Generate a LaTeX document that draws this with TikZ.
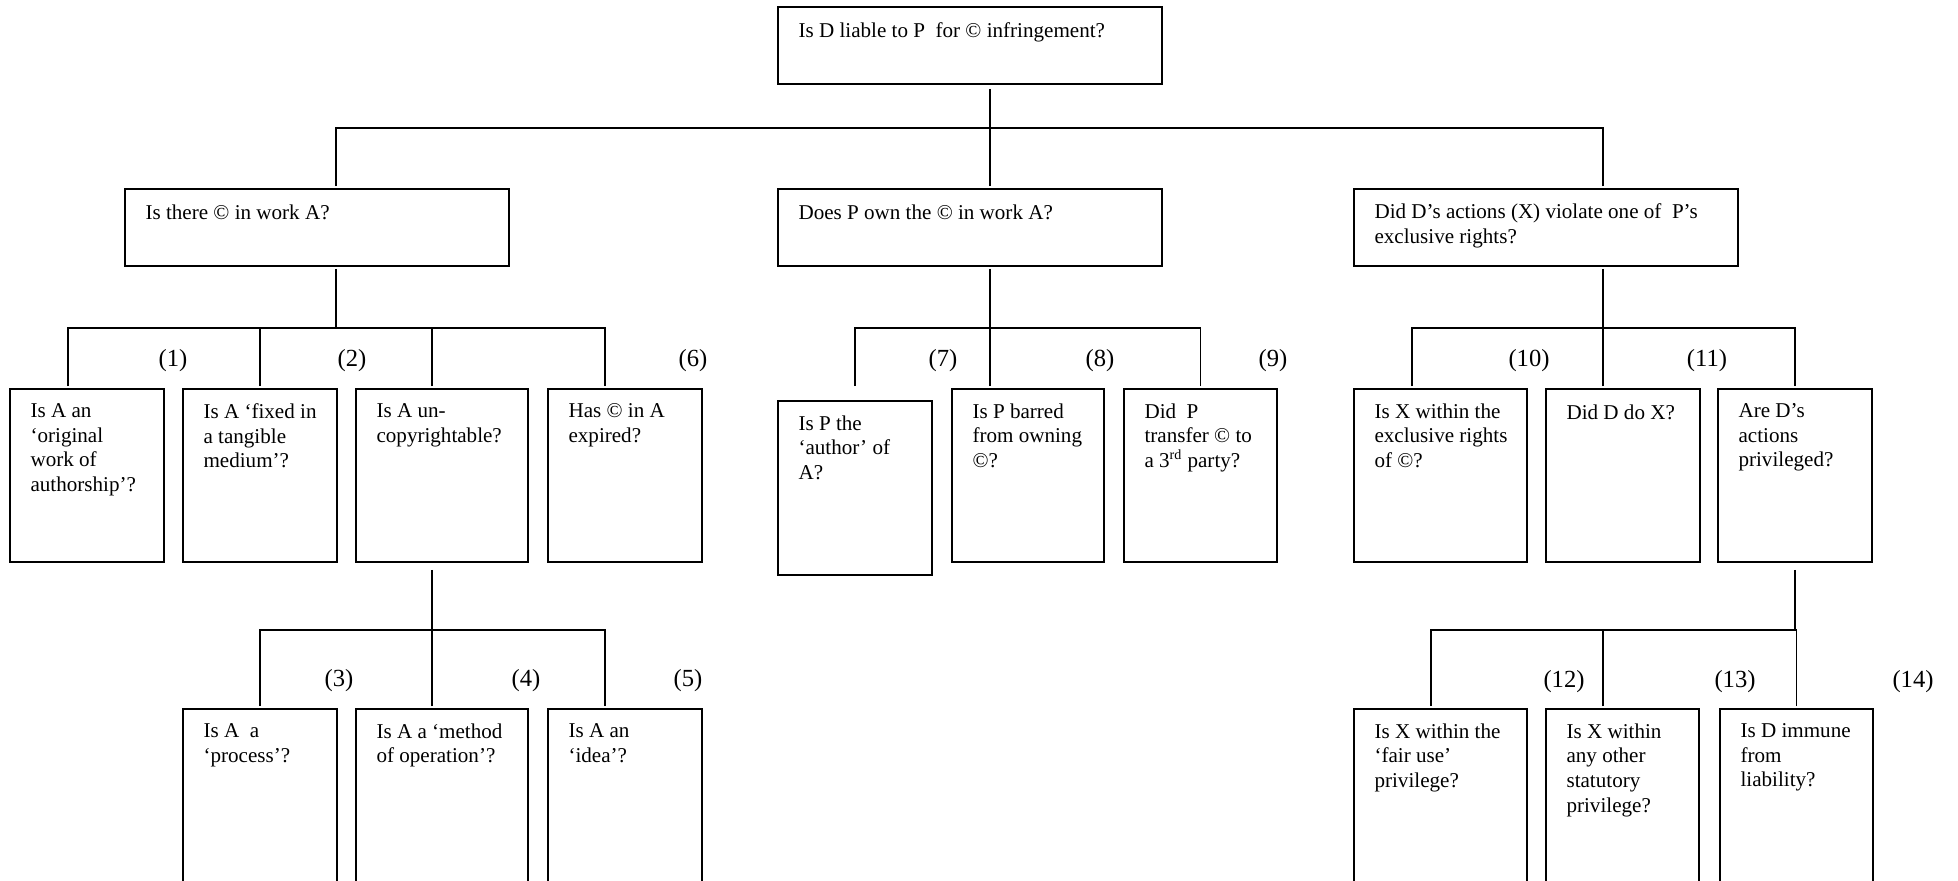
\documentclass[tikz,border=0pt]{standalone}
\usepackage{fontspec}
\setmainfont{Liberation Serif}

\begin{document}
\begin{tikzpicture}[
    x=0.02cm, y=-0.02cm,
    qbox/.style args={#1,#2,#3,#4}{
        rectangle,
        draw,
        line width=1pt,
        inner sep=0pt,
        at={({(#1+#3)/2},{(#2+#4)/2})},
        minimum width={(#3-#1)*0.02cm},
        minimum height={(#4-#2)*0.02cm}
    },
    qtext/.style={
        anchor=north west,
        inner sep=0pt,
        xshift=12pt,
        yshift=-8.6pt,
        align=left,
        font=\fontsize{12}{14}\selectfont,
        execute at begin node={\rule{0pt}{9pt}}
    },
    num/.style={font=\fontsize{14}{16}\selectfont},
    conn/.style={line width=0.7pt}
]

\useasboundingbox (0,0) rectangle (1958,880);

\node[qbox={778,7,1162,84}, label={[qtext]north west:{Is D liable to P\ \ for © infringement?}}] (root) {};

\node[qbox={125,189,509,266}, label={[qtext]north west:{Is there © in work A?}}] (qA) {};
\node[qbox={778,189,1162,266}, label={[qtext]north west:{Does P own the © in work A?}}] (qB) {};
\node[qbox={1354,189,1738,266}, label={[qtext]north west:{Did D’s actions (X) violate one of\ \ P’s\\exclusive rights?}}] (qC) {};

\node[qbox={10,389,164,562}, label={[qtext]north west:{Is A an\\‘original\\work of\\authorship’?}}] (a1) {};
\node[qbox={183,389,337,562}, label={[qtext]north west:{Is A ‘fixed in\\a tangible\\medium’?}}] (a2) {};
\node[qbox={356,389,528,562}, label={[qtext]north west:{Is A un-\\copyrightable?}}] (a3) {};
\node[qbox={548,389,702,562}, label={[qtext]north west:{Has © in A\\expired?}}] (a4) {};

\node[qbox={778,401,932,575}, label={[qtext]north west:{Is P the\\‘author’ of\\A?}}] (b1) {};
\node[qbox={952,389,1104,562}, label={[qtext]north west:{Is P barred\\from owning\\©?}}] (b2) {};
\node[qbox={1124,389,1277,562}, label={[qtext]north west:{Did\ \ P\\transfer © to\\a 3\textsuperscript{rd} party?}}] (b3) {};

\node[qbox={1354,389,1527,562}, label={[qtext]north west:{Is X within the\\exclusive rights\\of ©?}}] (c1) {};
\node[qbox={1546,389,1700,562}, label={[qtext]north west:{Did D do X?}}] (c2) {};
\node[qbox={1718,389,1872,562}, label={[qtext]north west:{Are D’s\\actions\\privileged?}}] (c3) {};

\node[qbox={183,709,337,900}, label={[qtext]north west:{Is A\ \ a\\‘process’?}}] (d1) {};
\node[qbox={356,709,528,900}, label={[qtext]north west:{Is A a ‘method\\of operation’?}}] (d2) {};
\node[qbox={548,709,702,900}, label={[qtext]north west:{Is A an\\‘idea’?}}] (d3) {};

\node[qbox={1354,709,1527,900}, label={[qtext]north west:{Is X within the\\‘fair use’\\privilege?}}] (e1) {};
\node[qbox={1546,709,1699,900}, label={[qtext]north west:{Is X within\\any other\\statutory\\privilege?}}] (e2) {};
\node[qbox={1720,709,1873,900}, label={[qtext]north west:{Is D immune\\from\\liability?}}] (e3) {};

\coordinate (bus0) at (990,128);
\coordinate (busA) at (336,328);
\coordinate (busB) at (990,328);
\coordinate (busC) at (1603,328);
\coordinate (busD) at (432,630);
\coordinate (busE) at (1795,630);

\draw[conn] (root.south) ++(20,4) -- (bus0);
\foreach \n/\dx in {qA/19, qB/20, qC/57}
    \draw[conn] (\n.north) ++(\dx,-2) |- (bus0);

\draw[conn] (qA.south) ++(19,2) -- (busA);
\foreach \n/\dx in {a1/-19, a2/0, a3/-10, a4/-20}
    \draw[conn] (\n.north) ++(\dx,-2) |- (busA);

\draw[conn] (qB.south) ++(20,2) -- (busB);
\foreach \n/\dx/\dy in {b1/0/-14, b2/-38/-2, b3/0/-2}
    \draw[conn] (\n.north) ++(\dx,\dy) |- (busB);

\draw[conn] (qC.south) ++(57,2) -- (busC);
\foreach \n/\dx in {c1/-28.5, c2/-20, c3/0}
    \draw[conn] (\n.north) ++(\dx,-2) |- (busC);

\draw[conn] (a3.south) ++(-10,7) -- (busD);
\foreach \n/\dx in {d1/0, d2/-10, d3/-20}
    \draw[conn] (\n.north) ++(\dx,-2) |- (busD);

\draw[conn] (c3.south) ++(0,7) -- (busE);
\foreach \n/\dx in {e1/-9.5, e2/-19.5, e3/0}
    \draw[conn] (\n.north) ++(\dx,-2) |- (busE);

\foreach \k/\x/\y in {1/173/361, 2/352/361, 6/693/361, 7/943/361, 8/1100/361,
    9/1273/361, 10/1529/361, 11/1707/361, 3/339/681, 4/526/681, 5/688/681,
    12/1564/682, 13/1735/682, 14/1913/682}
    \node[num] (n\k) at (\x,\y) {(\k)};

\end{tikzpicture}
\end{document}
